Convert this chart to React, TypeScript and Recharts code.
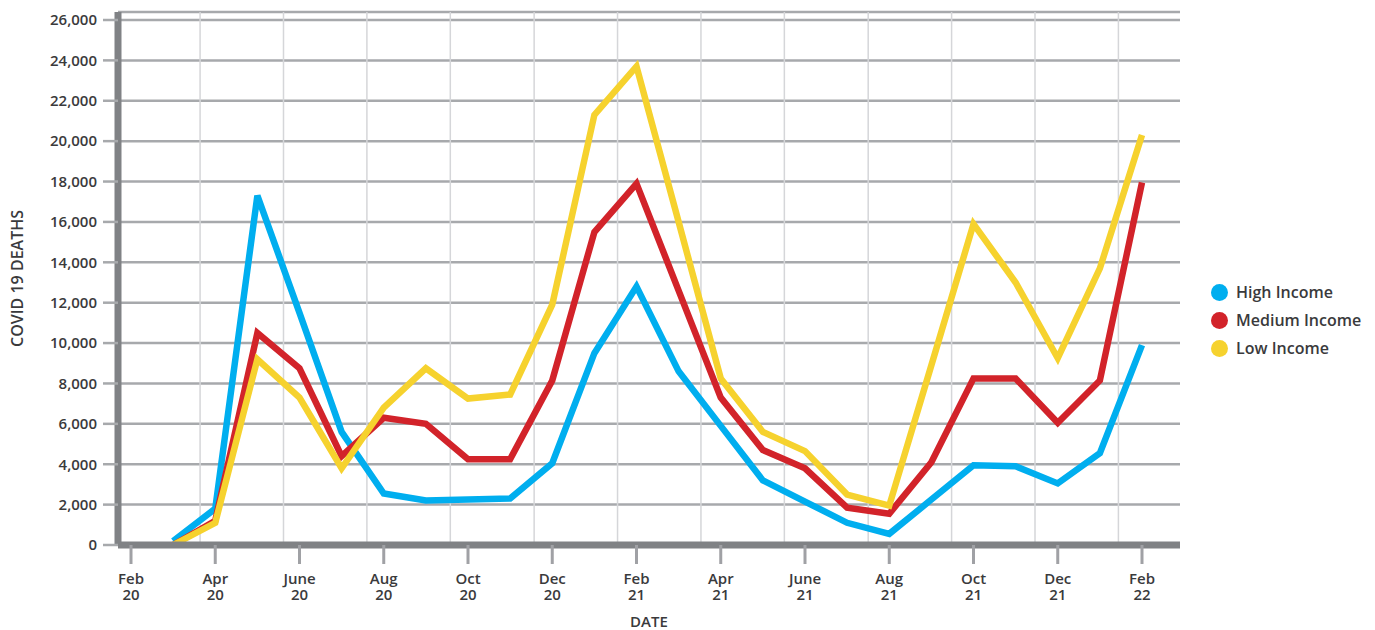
import React from 'react';
import { LineChart, Line, XAxis, YAxis, CartesianGrid, ReferenceLine } from 'recharts';

// months counted from Feb 2020 (= 0)
const monthIndex = [1, 2, 3, 4, 5, 6, 7, 8, 9, 10, 11, 12, 13, 14, 15, 16, 17, 18, 19, 20, 21, 22, 23, 24];
const monthLabels = [
  'Mar 20', 'Apr 20', 'May 20', 'Jun 20', 'Jul 20', 'Aug 20', 'Sep 20', 'Oct 20', 'Nov 20', 'Dec 20', 'Jan 21', 'Feb 21',
  'Mar 21', 'Apr 21', 'May 21', 'Jun 21', 'Jul 21', 'Aug 21', 'Sep 21', 'Oct 21', 'Nov 21', 'Dec 21', 'Jan 22', 'Feb 22'
];

const highIncome = [200, 1800, 17300, 11500, 5600, 2550, 2200, 2250, 2300, 4050, 9500, 12800, 8600, 5900, 3200, 2150, 1100, 550, 2250, 3950, 3900, 3050, 4550, 9900];
const mediumIncome = [0, 1200, 10500, 8750, 4400, 6300, 6000, 4250, 4250, 8150, 15500, 17900, 12600, 7300, 4700, 3800, 1850, 1550, 4100, 8250, 8250, 6050, 8150, 17950];
const lowIncome = [0, 1100, 9200, 7300, 3800, 6800, 8750, 7250, 7450, 11900, 21300, 23700, 16000, 8250, 5600, 4650, 2500, 1950, 8900, 15900, 13000, 9250, 13700, 20300];

const xTicks = [0, 2, 4, 6, 8, 10, 12, 14, 16, 18, 20, 22, 24];
const xTickMonths = ['Feb', 'Apr', 'June', 'Aug', 'Oct', 'Dec', 'Feb', 'Apr', 'June', 'Aug', 'Oct', 'Dec', 'Feb'];
const xTickYears = ['20', '20', '20', '20', '20', '20', '21', '21', '21', '21', '21', '21', '22'];
const yTicks = [0, 2000, 4000, 6000, 8000, 10000, 12000, 14000, 16000, 18000, 20000, 22000, 24000, 26000];

// light vertical guides in the original sit between the ticks
const verticalGuides = [1.64, 3.62, 5.6, 7.58, 9.57, 11.55, 13.53, 15.51, 17.5, 19.48, 21.46, 23.44];

const series = [
  { key: 'high', name: 'High Income', color: '#00aeef' },
  { key: 'medium', name: 'Medium Income', color: '#d2232a' },
  { key: 'low', name: 'Low Income', color: '#f6d22e' }
];

const data = monthIndex.map((m, i) => ({
  m,
  label: monthLabels[i],
  high: highIncome[i],
  medium: mediumIncome[i],
  low: lowIncome[i]
}));

const FONT = '"Open Sans", sans-serif';
const TEXT = '#3a3a3c';

const DateTick = (props: any) => {
  const { x, y, payload } = props;
  const i = xTicks.indexOf(payload.value);
  return (
    <text x={x} y={y} textAnchor="middle" fill={TEXT} fontSize={15} fontWeight={600} fontFamily={FONT}>
      <tspan x={x} dy={20}>{xTickMonths[i]}</tspan>
      <tspan x={x} dy={16}>{xTickYears[i]}</tspan>
    </text>
  );
};

const App = () => (
  <div style={{ position: 'absolute', left: 0, top: 0, width: 1375, height: 630, background: '#fff' }}>
    <LineChart width={1375} height={630} data={data} margin={{ top: 12, right: 195, bottom: 0, left: 0 }} style={{ fontFamily: FONT }}>
      <CartesianGrid vertical={false} stroke="#a7a9ac" strokeWidth={2.5} />
      {verticalGuides.map((v) => (
        <ReferenceLine key={v} x={v} stroke="#d5d6d9" strokeWidth={1.5} />
      ))}
      <XAxis
        dataKey="m"
        type="number"
        domain={[0, 24]}
        ticks={xTicks}
        padding={{ left: 13, right: 38 }}
        height={85}
        axisLine={{ stroke: '#808285', strokeWidth: 7 }}
        tickLine={{ stroke: '#a0a1a5', strokeWidth: 3 }}
        tickSize={19}
        tickMargin={0}
        tick={<DateTick />}
        label={{ value: 'DATE', position: 'insideBottom', offset: 3, fill: TEXT, fontSize: 15, fontWeight: 600, fontFamily: FONT }}
      />
      <YAxis
        type="number"
        domain={[0, 26000]}
        ticks={yTicks}
        width={118}
        padding={{ top: 8 }}
        interval={0}
        axisLine={{ stroke: '#808285', strokeWidth: 7 }}
        tickLine={{ stroke: '#a7a9ac', strokeWidth: 2.5 }}
        tickSize={15}
        tickMargin={6}
        tickFormatter={(v) => v.toLocaleString('en-US')}
        tick={{ fill: TEXT, fontSize: 15, fontWeight: 600, fontFamily: FONT }}
        label={{ value: 'COVID 19 DEATHS', angle: -90, position: 'insideLeft', offset: 17, fill: TEXT, fontSize: 16, fontWeight: 600, fontFamily: FONT, style: { textAnchor: 'middle' } }}
      />
      {series.map((s) => (
        <Line
          key={s.key}
          type="linear"
          dataKey={s.key}
          name={s.name}
          stroke={s.color}
          strokeWidth={6.5}
          strokeLinejoin="miter"
          dot={false}
          activeDot={false}
          isAnimationActive={false}
        />
      ))}
    </LineChart>
    <div style={{ position: 'absolute', left: 1211, top: 278, fontFamily: FONT }}>
      {series.map((s) => (
        <div key={s.key} style={{ display: 'flex', alignItems: 'center', height: 28 }}>
          <span style={{ width: 17, height: 17, borderRadius: '50%', background: s.color, marginRight: 8, display: 'inline-block' }} />
          <span style={{ fontSize: 16, fontWeight: 600, color: TEXT }}>{s.name}</span>
        </div>
      ))}
    </div>
  </div>
);

export default App;
